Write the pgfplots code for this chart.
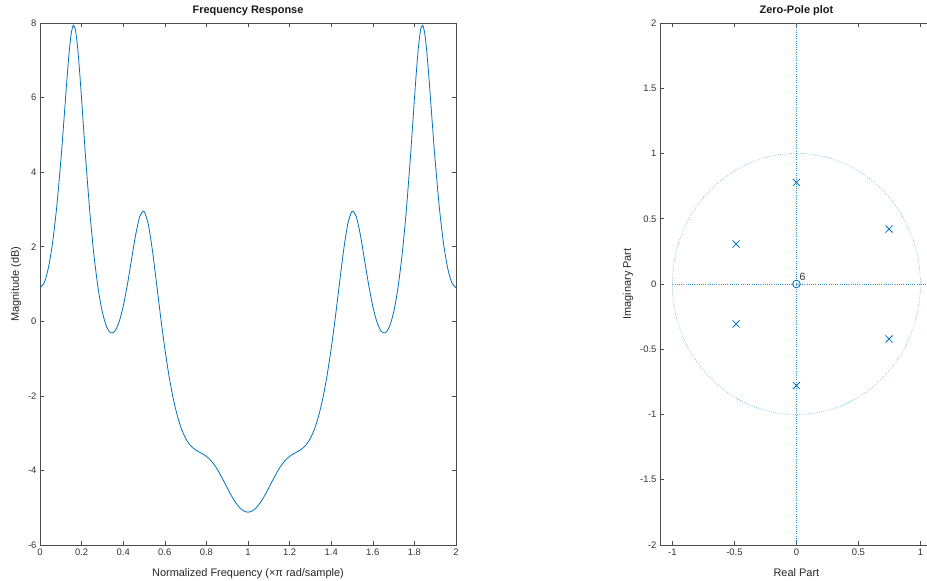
\documentclass[border=0pt]{standalone}
\usepackage{fontspec}
\setmainfont{Liberation Sans}
\usepackage{pgfplots}
\pgfplotsset{compat=1.18}
\definecolor{mblue}{rgb}{0,0.447,0.741}

\pgfplotstableread{
f db
0.00 0.901
0.02 1.030
0.04 1.422
0.06 2.089
0.08 3.045
0.10 4.293
0.11 5.013
0.12 5.771
0.13 6.526
0.14 7.206
0.15 7.712
0.16 7.940
0.17 7.826
0.18 7.394
0.19 6.734
0.20 5.952
0.21 5.133
0.22 4.334
0.24 2.899
0.26 1.740
0.28 0.860
0.30 0.238
0.32 -0.147
0.34 -0.310
0.36 -0.265
0.38 -0.023
0.40 0.401
0.42 0.978
0.44 1.655
0.46 2.324
0.48 2.818
0.50 2.946
0.52 2.618
0.54 1.918
0.56 1.030
0.58 0.116
0.60 -0.729
0.62 -1.458
0.64 -2.058
0.66 -2.530
0.68 -2.885
0.70 -3.138
0.72 -3.308
0.74 -3.417
0.76 -3.490
0.78 -3.550
0.80 -3.623
0.82 -3.725
0.84 -3.866
0.86 -4.044
0.88 -4.250
0.90 -4.467
0.92 -4.676
0.94 -4.859
0.96 -5.000
0.98 -5.089
1.00 -5.120
1.02 -5.089
1.04 -5.000
1.06 -4.859
1.08 -4.676
1.10 -4.467
1.12 -4.250
1.14 -4.044
1.16 -3.866
1.18 -3.725
1.20 -3.623
1.22 -3.550
1.24 -3.490
1.26 -3.417
1.28 -3.308
1.30 -3.138
1.32 -2.885
1.34 -2.530
1.36 -2.058
1.38 -1.458
1.40 -0.729
1.42 0.116
1.44 1.030
1.46 1.918
1.48 2.618
1.50 2.946
1.52 2.818
1.54 2.324
1.56 1.655
1.58 0.978
1.60 0.401
1.62 -0.023
1.64 -0.265
1.66 -0.310
1.68 -0.147
1.70 0.238
1.72 0.860
1.74 1.740
1.76 2.899
1.78 4.334
1.79 5.133
1.80 5.952
1.81 6.734
1.82 7.394
1.83 7.826
1.84 7.940
1.85 7.712
1.86 7.206
1.87 6.526
1.88 5.771
1.89 5.013
1.90 4.293
1.92 3.045
1.94 2.089
1.96 1.422
1.98 1.030
2.00 0.901
}\freqdata

\pgfplotstableread{
re im
0.747 0.421
0.747 -0.421
0 0.778
0 -0.778
-0.487 0.306
-0.487 -0.306
}\poles

\begin{document}
\begin{tikzpicture}
\path[use as bounding box] (0bp,0bp) rectangle (927bp,581bp);
\pgfplotsset{
  every axis/.append style={
    scale only axis,
    anchor=south west,
    axis line style={black!70, line width=0.5bp},
    tick style={black!70, line width=0.5bp},
    major tick length=4bp,
    tick align=inside,
    ticklabel style={text=black!80, font=\fontsize{9.5}{11}\selectfont},
    /pgf/number format/assume math mode=true,
    label style={text=black!85, font=\fontsize{11}{13}\selectfont},
  },
  every axis title/.style={at={(0.5,1.023)}, anchor=center, font=\bfseries\fontsize{11}{13}\selectfont, text=black!90},
}
\begin{axis}[
  at={(40bp,36bp)}, width=416bp, height=522bp,
  xmin=0, xmax=2, ymin=-6, ymax=8,
  xtick={0,0.2,0.4,0.6,0.8,1,1.2,1.4,1.6,1.8,2},
  ytick={-6,-4,-2,0,2,4,6,8},
  title={Frequency Response},
  xlabel={Normalized Frequency (×π rad/sample)},
  xlabel style={at={(axis description cs:0.5,-0.0546)}, anchor=center},
  ylabel={Magnitude (dB)},
  ylabel style={at={(axis description cs:-0.0577,0.5)}, anchor=center},
]
\addplot[mblue, line width=0.8bp, smooth, tension=0.4] table[x=f, y=db] {\freqdata};
\end{axis}

\begin{axis}[
  at={(660bp,36bp)}, width=272.8bp, height=522bp,
  xmin=-1.1, xmax=1.1, ymin=-2, ymax=2,
  xtick={-1,-0.5,0,0.5,1},
  ytick={-2,-1.5,-1,-0.5,0,0.5,1,1.5,2},
  title={Zero-Pole plot},
  xlabel={Real Part},
  xlabel style={at={(axis description cs:0.5,-0.0536)}, anchor=center},
  ylabel={Imaginary Part},
  ylabel style={at={(axis description cs:-0.1173,0.5)}, anchor=center},
]
\draw[mblue!80, line width=0.5bp, dash pattern=on 0.6bp off 1.6bp] (axis cs:0,0) ellipse [x radius=1, y radius=1];
\draw[mblue!80, line width=0.5bp, dash pattern=on 0.6bp off 1.6bp] (axis cs:-1,0) -- (axis cs:1.1,0);
\draw[mblue!80, line width=0.5bp, dash pattern=on 0.6bp off 1.6bp] (axis cs:0,-2) -- (axis cs:0,2);
\addplot[only marks, mark=x, mark size=5bp, mblue, mark options={line width=0.8bp}] table[x=re, y=im] {\poles};
\addplot[only marks, mark=o, mark size=3.8bp, mblue, mark options={line width=0.8bp}] coordinates {(0,0)};
\node[font=\fontsize{10.5}{12}\selectfont, text=black!80, anchor=center] at (axis cs:0.05,0.055) {6};
\end{axis}
\end{tikzpicture}
\end{document}
